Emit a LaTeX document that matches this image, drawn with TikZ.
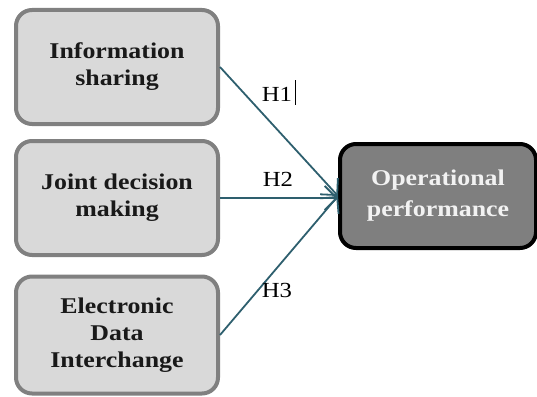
\documentclass[tikz,border=0pt]{standalone}
\usepackage{fontspec}
\setmainfont{Liberation Serif}[FakeStretch=1.15]
\usetikzlibrary{arrows.meta}
\definecolor{boxfill}{HTML}{D9D9D9}
\definecolor{boxline}{HTML}{808080}
\definecolor{outfill}{HTML}{7F7F7F}
\definecolor{arrowcol}{HTML}{2E5F6E}
\definecolor{txtlight}{HTML}{F2F2F2}
\begin{document}
\begin{tikzpicture}[x=1pt,y=1pt,
  inbox/.style={draw=boxline, fill=boxfill, line width=4pt, rounded corners=16pt,
    minimum width=202pt, minimum height=114pt, align=center, inner sep=0pt,
    text=black!90, font=\fontsize{22.5}{27}\selectfont\bfseries},
  outbox/.style={draw=black, fill=outfill, line width=4pt, rounded corners=16pt,
    minimum width=196pt, minimum height=104pt, align=center, inner sep=0pt,
    text=txtlight, font=\fontsize{22.5}{31}\selectfont\bfseries},
  hyp/.style={font=\fontsize{21.5}{24}\selectfont, inner sep=0pt},
  link/.style={draw=arrowcol, line width=1.8pt, -{Straight Barb[length=12pt,width=24pt,line width=1.8pt]}}]
\useasboundingbox (0,-396) rectangle (537,0);
\node[inbox] (b1) at (117,-67) {Information\\sharing};
\node[inbox] (b2) at (117,-198) {Joint decision\\making};
\node[inbox, minimum height=117pt] (b3) at (117,-335) {Electronic\\Data\\Interchange};
\node[outbox] (out) at (438,-196) {Operational\\performance};
\draw[link] (b1.east) -- (out.west);
\draw[link] (b2.east) -- (b2.east -| out.west);
\draw[link] (b3.east) -- (out.west);
\node[hyp] (h1) at (277,-94) {H1};
\node[hyp] (h2) at (278,-179) {H2};
\node[hyp] (h3) at (277,-290) {H3};
\draw[line width=1pt] ([xshift=3pt,yshift=14pt]h1.east) -- ([xshift=3pt,yshift=-11pt]h1.east);
\end{tikzpicture}
\end{document}
